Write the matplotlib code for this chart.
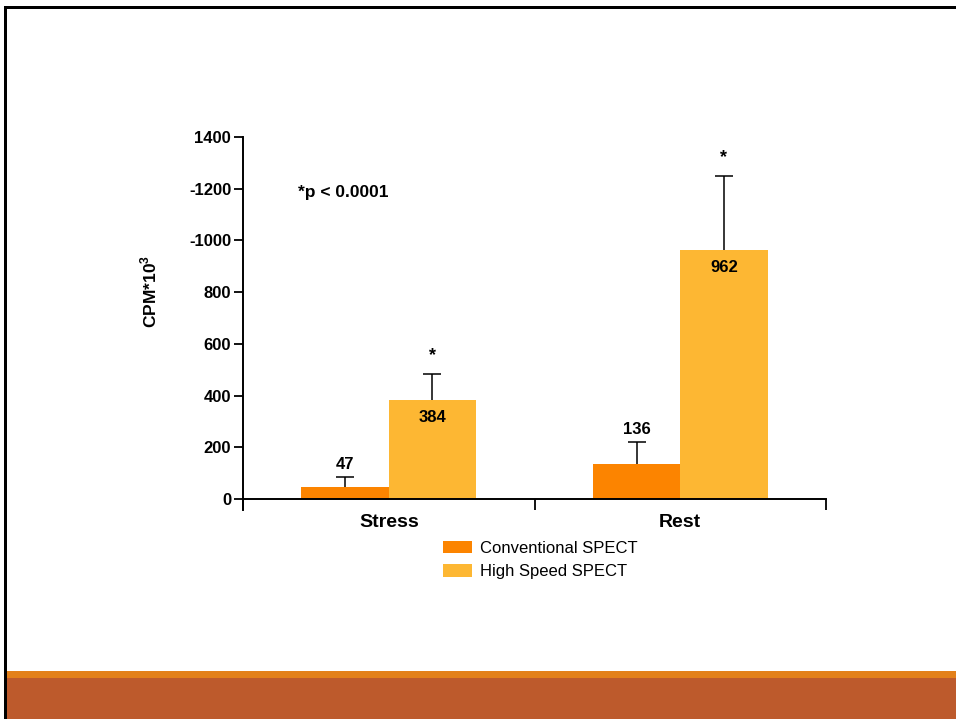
import matplotlib
matplotlib.use("Agg")
import matplotlib.pyplot as plt
from matplotlib.patches import Rectangle, Patch
import numpy as np

plt.rcParams['font.family'] = ['Liberation Sans', 'DejaVu Sans']
plt.rcParams['mathtext.fontset'] = 'custom'
plt.rcParams['mathtext.bf'] = 'Liberation Sans:bold'
plt.rcParams['mathtext.rm'] = 'Liberation Sans'

# Data
categories = ["Stress", "Rest"]
series_names = ["Conventional SPECT", "High Speed SPECT"]
conventional = [47, 136]
high_speed = [384, 962]
conventional_err = [38, 84]
high_speed_err = [99, 287]
ytick_values = [0, 200, 400, 600, 800, 1000, 1200, 1400]
ytick_labels = ["0", "200", "400", "600", "800", "-1000", "-1200", "1400"]

col_conv = "#FC8400"
col_high = "#FDB733"

W, H = 956, 719
fig = plt.figure(figsize=(W / 100, H / 100), dpi=100)
fig.patch.set_facecolor("white")

# Slide frame and footer bands (figure pixel coordinates)
def px_rect(x0, y0, x1, y1, color):
    fig.patches.append(Rectangle((x0 / W, 1 - y1 / H), (x1 - x0) / W, (y1 - y0) / H,
                                 transform=fig.transFigure, facecolor=color,
                                 edgecolor="none", zorder=0))

px_rect(7, 671, W, 678, "#E38019")
px_rect(7, 678, W, H, "#BD5A2C")
px_rect(4, 6, W, 9, "black")
px_rect(4, 6, 7, H, "black")

# Axes
ax_left, ax_right = 243, 826
ax_top, ax_bottom = 137, 510
ax = fig.add_axes([ax_left / W, 1 - ax_bottom / H, (ax_right - ax_left) / W,
                   (ax_bottom - ax_top) / H])
ax.set_facecolor("none")

x = np.arange(len(categories))
bw = 0.3
ax.bar(x - bw / 2, conventional, bw, color=col_conv, zorder=2)
ax.bar(x + bw / 2, high_speed, bw, color=col_high, zorder=2)
for xs, vals, errs in [(x - bw / 2, conventional, conventional_err),
                       (x + bw / 2, high_speed, high_speed_err)]:
    eb = ax.errorbar(xs, vals, yerr=[np.zeros(len(x)), errs], fmt="none",
                     ecolor="black", elinewidth=1.1, capsize=6.8, capthick=1.1, zorder=3)
    # keep only the upper cap
    eb[1][0].set_visible(False)

ax.set_xlim(-0.5, 1.5)
ax.set_ylim(-42.5, 1400)

for s in ["top", "right"]:
    ax.spines[s].set_visible(False)
ax.spines["bottom"].set_position(("data", 0))
ax.spines["left"].set_linewidth(1.4)
ax.spines["bottom"].set_linewidth(1.4)

ax.set_yticks(ytick_values)
ax.set_yticklabels(ytick_labels, fontsize=12, fontweight="bold")
ax.tick_params(axis="y", length=6.5, width=1.3, pad=2)

ax.set_xticks(x)
ax.set_xticklabels(categories, fontsize=14, fontweight="bold")
ax.tick_params(axis="x", which="major", length=0, pad=11)
ax.set_xticks([-0.5, 0.5, 1.5], minor=True)
ax.tick_params(axis="x", which="minor", length=8, width=1.3, direction="out")

ax.set_ylabel(r"CPM*10$^\mathbf{3}$", fontsize=12.5, fontweight="bold")
ax.yaxis.set_label_coords(-0.144, 0.585)

# Value labels
for xi, v, e in zip(x - bw / 2, conventional, conventional_err):
    ax.annotate(str(v), (xi, v + e), xytext=(0, 9), textcoords="offset points",
                ha="center", va="center", fontsize=12, fontweight="bold")
for xi, v, e in zip(x + bw / 2, high_speed, high_speed_err):
    ax.annotate(str(v), (xi, v), xytext=(0, -12.5), textcoords="offset points",
                ha="center", va="center", fontsize=12, fontweight="bold")
    ax.annotate("*", (xi, v + e), xytext=(0, 13.5), textcoords="offset points",
                ha="center", va="center", fontsize=13, fontweight="bold")

ax.text(298 / W, 1 - 193 / H, "*p < 0.0001", transform=fig.transFigure,
        ha="left", va="center", fontsize=12.5, fontweight="bold")

handles = [Patch(facecolor=col_conv, edgecolor="none"),
           Patch(facecolor=col_high, edgecolor="none")]
fig.legend(handles, series_names, loc="upper left",
           bbox_to_anchor=(443 / W, 1 - 541 / H), frameon=False,
           fontsize=12, handlelength=1.75, handleheight=0.75,
           handletextpad=0.45, borderpad=0, borderaxespad=0, labelspacing=0.5)

fig.savefig("out.png", dpi=100)
